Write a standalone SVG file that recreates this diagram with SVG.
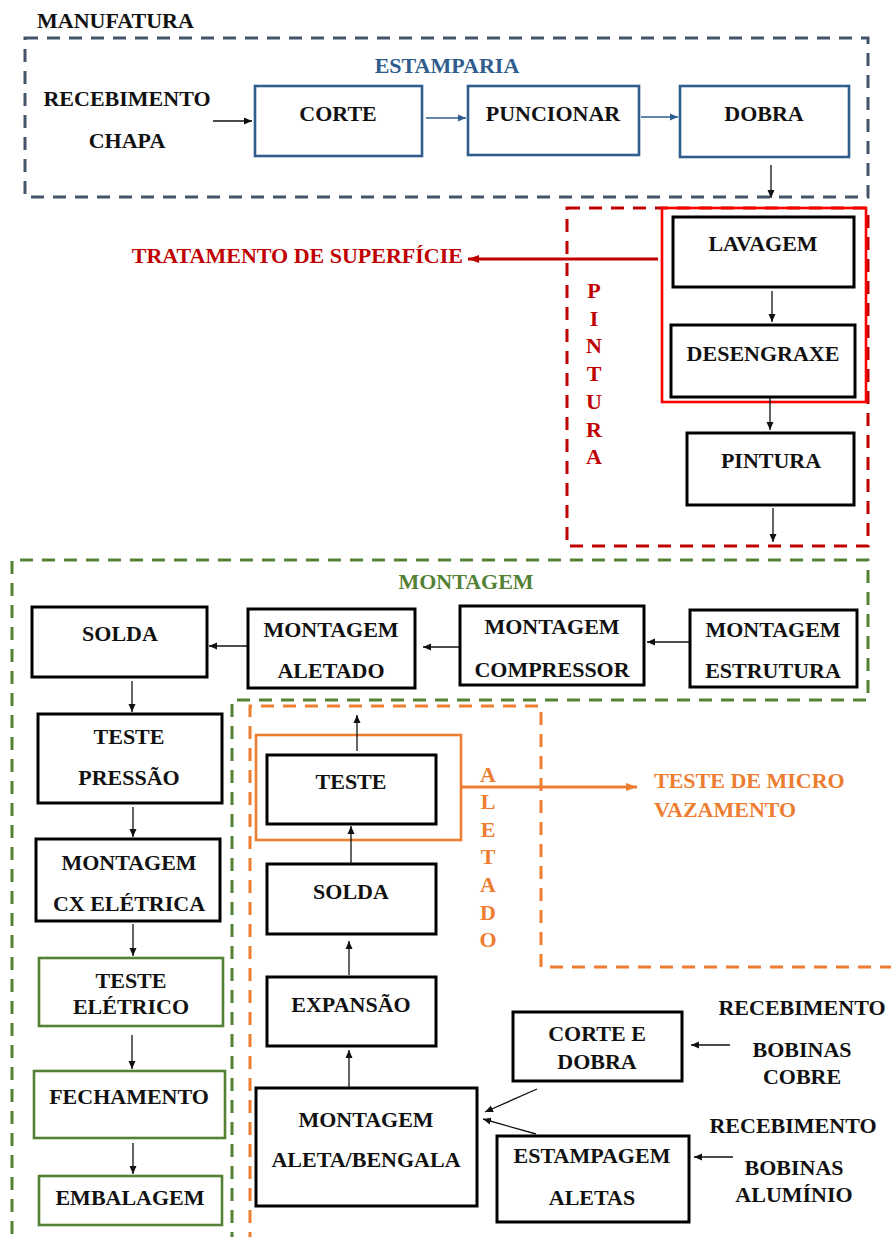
<svg xmlns="http://www.w3.org/2000/svg" width="891" height="1237" viewBox="0 0 891 1237">
  <defs>
    <style>
      text { font-family: "Liberation Serif", "Times New Roman", serif; font-weight: bold; font-size: 22px; fill: #111; text-anchor: middle; }
      .lbl-start { text-anchor: start; }
      .lbl-end { text-anchor: end; }
      .box { fill: #fff; stroke: #000; stroke-width: 3; }
      .box-blue { fill: #fff; stroke: #2E5D8E; stroke-width: 2.6; }
      .box-green { fill: #fff; stroke: #548235; stroke-width: 2.6; }
      .zone { fill: none; stroke-width: 3; stroke-dasharray: 13 9; }
      .c { fill: none; stroke: #111; stroke-width: 1.3; marker-end: url(#ah-black); }
      .c-blue { fill: none; stroke: #2E5D8E; stroke-width: 1.3; marker-end: url(#ah-blue); }
      .t-blue { fill: #2E5D8E; }
      .t-green { fill: #548235; }
      .t-red { fill: #C00000; }
      .t-orange { fill: #ED7D31; }
    </style>
    <marker id="ah-black" markerUnits="userSpaceOnUse" markerWidth="9" markerHeight="8" refX="8" refY="4" orient="auto">
      <path d="M0,0.5 L8,4 L0,7.5 z" fill="#111"/>
    </marker>
    <marker id="ah-blue" markerUnits="userSpaceOnUse" markerWidth="9" markerHeight="8" refX="8" refY="4" orient="auto">
      <path d="M0,0.5 L8,4 L0,7.5 z" fill="#2E5D8E"/>
    </marker>
    <marker id="ah-red" markerUnits="userSpaceOnUse" markerWidth="12" markerHeight="10" refX="11" refY="5" orient="auto">
      <path d="M0,1 L11,5 L0,9 z" fill="#C00000"/>
    </marker>
    <marker id="ah-orange" markerUnits="userSpaceOnUse" markerWidth="12" markerHeight="10" refX="11" refY="5" orient="auto">
      <path d="M0,1 L11,5 L0,9 z" fill="#ED7D31"/>
    </marker>
  </defs>

  <rect x="0" y="0" width="891" height="1237" fill="#fff"/>

  <!-- process areas -->
  <g id="areas">
    <rect id="area-estamparia" class="zone" x="25" y="38" width="843" height="159" stroke="#44546A"/>
    <rect id="area-pintura" class="zone" x="567" y="208" width="301" height="338" stroke="#C00000"/>
    <rect id="area-tratamento" x="662" y="208" width="204" height="194" fill="none" stroke="#FF0000" stroke-width="2.6"/>
    <path id="area-montagem" class="zone" d="M232,1245 L232,700 L868,700 L868,560 L12,560 L12,1245" stroke="#548235"/>
    <path id="area-aletado" class="zone" d="M250,1245 L250,706 L541,706 L541,967 L895,967" stroke="#ED7D31"/>
    <rect id="area-micro" x="256" y="735" width="205" height="105" fill="none" stroke="#ED7D31" stroke-width="2.6"/>
  </g>

  <!-- area titles -->
  <g id="titles">
    <text class="lbl-start" x="37" y="28">MANUFATURA</text>
    <text class="t-blue" x="447" y="73">ESTAMPARIA</text>
    <text class="t-green" x="466" y="589">MONTAGEM</text>
    <text class="t-red lbl-end" x="463" y="263">TRATAMENTO DE SUPERFÍCIE</text>
    <g>
      <text class="t-red" x="594" y="298">P</text>
      <text class="t-red" x="594" y="326">I</text>
      <text class="t-red" x="594" y="353">N</text>
      <text class="t-red" x="594" y="381">T</text>
      <text class="t-red" x="594" y="409">U</text>
      <text class="t-red" x="594" y="437">R</text>
      <text class="t-red" x="594" y="464">A</text>
    </g>
    <g>
      <text class="t-orange" x="488" y="782">A</text>
      <text class="t-orange" x="488" y="809">L</text>
      <text class="t-orange" x="488" y="837">E</text>
      <text class="t-orange" x="488" y="864">T</text>
      <text class="t-orange" x="488" y="892">A</text>
      <text class="t-orange" x="488" y="920">D</text>
      <text class="t-orange" x="488" y="947">O</text>
    </g>
    <text class="t-orange lbl-start" x="654" y="788">TESTE DE MICRO</text>
    <text class="t-orange lbl-start" x="654" y="817">VAZAMENTO</text>
  </g>

  <!-- connectors -->
  <g id="connectors">
    <line class="c" x1="213" y1="121" x2="252" y2="121"/>
    <line class="c-blue" x1="426" y1="118" x2="466" y2="118"/>
    <line class="c-blue" x1="641" y1="117" x2="678" y2="117"/>
    <line class="c" x1="771" y1="165" x2="771" y2="198"/>
    <line class="c" x1="772" y1="291" x2="772" y2="322"/>
    <line class="c" x1="770" y1="398" x2="770" y2="430"/>
    <line class="c" x1="773" y1="508" x2="773" y2="542"/>
    <line x1="658" y1="259" x2="468" y2="259" stroke="#C00000" stroke-width="3" marker-end="url(#ah-red)"/>
    <line class="c" x1="690" y1="642" x2="647" y2="642"/>
    <line class="c" x1="460" y1="647" x2="423" y2="647"/>
    <line class="c" x1="248" y1="646" x2="209" y2="646"/>
    <line class="c" x1="132" y1="681" x2="132" y2="712"/>
    <line class="c" x1="133" y1="807" x2="133" y2="837"/>
    <line class="c" x1="133" y1="924" x2="133" y2="956"/>
    <line class="c" x1="132" y1="1035" x2="132" y2="1069"/>
    <line class="c" x1="133" y1="1143" x2="133" y2="1174"/>
    <line class="c" x1="349" y1="1087" x2="349" y2="1050"/>
    <line class="c" x1="349" y1="975" x2="349" y2="941"/>
    <line class="c" x1="351" y1="863" x2="351" y2="826"/>
    <line class="c" x1="357" y1="751" x2="357" y2="715"/>
    <line x1="461" y1="787" x2="637" y2="787" stroke="#ED7D31" stroke-width="3" marker-end="url(#ah-orange)"/>
    <line class="c" x1="537" y1="1089" x2="485" y2="1112"/>
    <line class="c" x1="536" y1="1134" x2="483" y2="1119"/>
    <line class="c" x1="730" y1="1045" x2="691" y2="1045"/>
    <line class="c" x1="733" y1="1157" x2="694" y2="1157"/>
  </g>

  <!-- ESTAMPARIA -->
  <g id="recebimento-chapa">
    <text x="127" y="106">RECEBIMENTO</text>
    <text x="127" y="148">CHAPA</text>
  </g>
  <g id="corte">
    <rect class="box-blue" x="255" y="86" width="167" height="70"/>
    <text x="338" y="121">CORTE</text>
  </g>
  <g id="puncionar">
    <rect class="box-blue" x="468" y="86" width="171" height="69"/>
    <text x="553" y="121">PUNCIONAR</text>
  </g>
  <g id="dobra">
    <rect class="box-blue" x="680" y="86" width="169" height="71"/>
    <text x="764" y="121">DOBRA</text>
  </g>

  <!-- PINTURA -->
  <g id="lavagem">
    <rect class="box" x="673" y="217" width="181" height="70"/>
    <text x="763" y="251">LAVAGEM</text>
  </g>
  <g id="desengraxe">
    <rect class="box" x="671" y="325" width="184" height="72"/>
    <text x="763" y="361">DESENGRAXE</text>
  </g>
  <g id="pintura">
    <rect class="box" x="687" y="433" width="167" height="72"/>
    <text x="771" y="468">PINTURA</text>
  </g>

  <!-- MONTAGEM -->
  <g id="montagem-estrutura">
    <rect class="box" x="690" y="610" width="167" height="77"/>
    <text x="773" y="637">MONTAGEM</text>
    <text x="773" y="678">ESTRUTURA</text>
  </g>
  <g id="montagem-compressor">
    <rect class="box" x="460" y="606" width="184" height="79"/>
    <text x="552" y="634">MONTAGEM</text>
    <text x="552" y="677">COMPRESSOR</text>
  </g>
  <g id="montagem-aletado">
    <rect class="box" x="248" y="609" width="167" height="79"/>
    <text x="331" y="637">MONTAGEM</text>
    <text x="331" y="678">ALETADO</text>
  </g>
  <g id="solda-final">
    <rect class="box" x="32" y="607" width="175" height="70"/>
    <text x="120" y="641">SOLDA</text>
  </g>
  <g id="teste-pressao">
    <rect class="box" x="38" y="714" width="184" height="89"/>
    <text x="129" y="744">TESTE</text>
    <text x="129" y="785">PRESSÃO</text>
  </g>
  <g id="montagem-cx-eletrica">
    <rect class="box" x="36" y="839" width="184" height="82"/>
    <text x="129" y="870">MONTAGEM</text>
    <text x="129" y="911">CX ELÉTRICA</text>
  </g>
  <g id="teste-eletrico">
    <rect class="box-green" x="39" y="958" width="184" height="68"/>
    <text x="131" y="988">TESTE</text>
    <text x="131" y="1014">ELÉTRICO</text>
  </g>
  <g id="fechamento">
    <rect class="box-green" x="34" y="1071" width="191" height="67"/>
    <text x="129" y="1104">FECHAMENTO</text>
  </g>
  <g id="embalagem">
    <rect class="box-green" x="39" y="1176" width="183" height="49"/>
    <text x="130" y="1205">EMBALAGEM</text>
  </g>

  <!-- ALETADO -->
  <g id="teste-aletado">
    <rect class="box" x="267" y="755" width="169" height="69"/>
    <text x="351" y="789">TESTE</text>
  </g>
  <g id="solda-aletado">
    <rect class="box" x="267" y="864" width="169" height="70"/>
    <text x="351" y="899">SOLDA</text>
  </g>
  <g id="expansao">
    <rect class="box" x="267" y="977" width="169" height="69"/>
    <text x="351" y="1012">EXPANSÃO</text>
  </g>
  <g id="montagem-aleta-bengala">
    <rect class="box" x="256" y="1088" width="221" height="118"/>
    <text x="366" y="1127">MONTAGEM</text>
    <text x="366" y="1167">ALETA/BENGALA</text>
  </g>
  <g id="corte-e-dobra">
    <rect class="box" x="513" y="1012" width="169" height="69"/>
    <text x="597" y="1041">CORTE E</text>
    <text x="597" y="1069">DOBRA</text>
  </g>
  <g id="estampagem-aletas">
    <rect class="box" x="497" y="1136" width="192" height="86"/>
    <text x="592" y="1163">ESTAMPAGEM</text>
    <text x="592" y="1205">ALETAS</text>
  </g>
  <g id="recebimento-cobre">
    <text x="802" y="1015">RECEBIMENTO</text>
    <text x="802" y="1057">BOBINAS</text>
    <text x="802" y="1084">COBRE</text>
  </g>
  <g id="recebimento-aluminio">
    <text x="793" y="1133">RECEBIMENTO</text>
    <text x="794" y="1175">BOBINAS</text>
    <text x="794" y="1202">ALUMÍNIO</text>
  </g>
</svg>
